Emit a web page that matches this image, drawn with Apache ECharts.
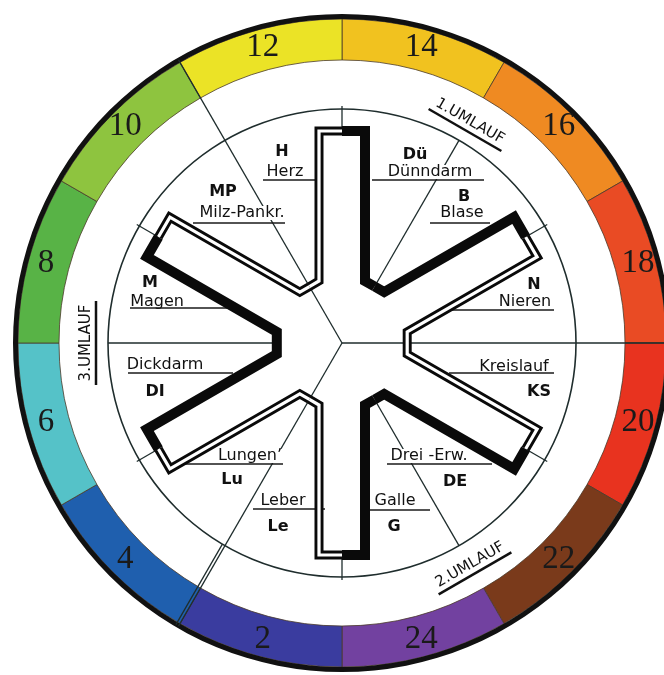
<!DOCTYPE html>
<html><head><meta charset="utf-8">
<script src="https://cdn.jsdelivr.net/npm/echarts@6/dist/echarts.min.js"></script>
<style>html,body{margin:0;padding:0;background:#fff}#c{width:664px;height:675px}</style>
</head><body><div id="c"></div>
<script>
// ---------- data ----------
const hourLabels = ['14','16','18','20','22','24','2','4','6','8','10','12'];
const hourColors = ['#f1c21f','#ef8a22','#e94b24','#e8331f','#7a3a1b','#7241a0','#3a3c9f','#1f5fae','#55c2c8','#58b346','#8ec43f','#ebe326'];
const hourSpan   = [2,2,2,2,2,2,2,2,2,2,2,2];

const organNames     = ['Herz','Dünndarm','Blase','Nieren','Kreislauf','Drei -Erw.','Galle','Leber','Lungen\u02BC','Dickdarm','Magen','Milz-Pankr.'];
const organAbbr      = ['H','Dü','B','N','KS','DE','G','Le','Lu','DI','M','MP'];
const organStartHour = [11,13,15,17,19,21,23,1,3,5,7,9];
const organLine      = ['double','thick','thick','double','double','thick','thick','double','double','thick','thick','double'];

const umlaufLabels    = ['1.UMLAUF','2.UMLAUF','3.UMLAUF'];
const umlaufStartHour = [11,19,3];

// ---------- layout ----------
const CX = 342, CY = 343;
const R_OUT = 329, R_RING_OUT = 324, R_RING_IN = 283, R_CIRCLE = 234;
const ARM_W = 23, ARM_L = 212, CUT = 62;
const LINE_COLOR = '#1f2d2d';

// label layout (chart units, origin at clock centre, y up)
const nameXY  = [[-57,171],[88,171],[120,130],[183,41],[172,-24],[87,-113],[53,-158],[-59,-158],[-92,-113],[-177,-22],[-185,41],[-100,130]];
const abbrXY  = [[-60,191],[73,188],[122,146],[192,58],[197,-49],[113,-139],[52,-184],[-64,-184],[-110,-137],[-187,-49],[-192,60],[-119,151]];
const ulSpan  = [[-79,-19,163],[30,142,163],[88,148,120],[100,212,33],[107,212,-30],[45,150,-121],[25,88,-167],[-89,-17,-166],[-169,-59,-121],[-214,-109,-30],[-212,-112,35],[-149,-57,120]];

function ang(h){ return ((h - 13) * 15 + 720) % 360; }
function u(deg, r){ const a = deg * Math.PI / 180; return [r * Math.sin(a), r * Math.cos(a)]; }
function add(a, b){ return [a[0] + b[0], a[1] + b[1]]; }

function organPath(i){
  const s = ang(organStartHour[i]);
  let A, sgn;
  if (s % 60 === 0) { A = s; sgn = 1; } else { A = s + 30; sgn = -1; }
  const side = u(A + 90 * sgn, ARM_W);
  const tipMid = u(A, ARM_L);
  const tipCorner = add(tipMid, side);
  const inner = add(u(A, CUT), side);
  const A2 = A + 60 * sgn;
  const inner2 = add(u(A2, CUT), u(A2 - 90 * sgn, ARM_W));
  const cutMid = [(inner[0] + inner2[0]) / 2, (inner[1] + inner2[1]) / 2];
  return [cutMid, inner, tipCorner, tipMid];
}

const doublePaths = [], thickPaths = [];
organNames.forEach((n, i) => {
  (organLine[i] === 'double' ? doublePaths : thickPaths).push({ coords: organPath(i) });
});

// radial lines
const radial = [];
const cutR = CUT * Math.cos(Math.PI / 6) + ARM_W * 0.5;
const umlaufAngles = umlaufStartHour.map(ang);
for (let k = 0; k < 6; k++) {
  const b = 30 + 60 * k;
  if (umlaufAngles.includes(b)) radial.push({ coords: [[0, 0], u(b, R_OUT - 2)] });
  else radial.push({ coords: [u(b, cutR), u(b, R_CIRCLE)] });
  const a = 60 * k;
  radial.push({ coords: [u(a, ARM_L), u(a, R_CIRCLE + 3)] });
}
{
  const b = ang(3);
  const off = u(b + 90, 3);
  radial.push({ coords: [add(u(b, R_CIRCLE), off), add(u(b, R_OUT - 2), off)] });
}

const underlines = ulSpan.map(s => ({ coords: [[s[0], s[2]], [s[1], s[2]]] }));

const option = {
  animation: false,
  grid: { left: 0, top: 0, width: 664, height: 675 },
  xAxis: { type: 'value', min: -CX, max: 664 - CX, show: false },
  yAxis: { type: 'value', min: -(675 - CY), max: CY, show: false },
  series: [
    {
      type: 'pie', silent: true, z: 1, center: [CX, CY], radius: [R_RING_IN, R_RING_OUT],
      startAngle: 90, clockwise: true,
      data: hourLabels.map((h, i) => ({ name: h, value: hourSpan[i], itemStyle: { color: hourColors[i] } })),
      itemStyle: { borderColor: '#4a3a2a', borderWidth: 0.8 },
      label: { show: true, position: 'inside', formatter: '{b}', fontFamily: 'Liberation Serif', fontSize: 33, color: '#1a1a1a' },
      labelLine: { show: false }
    },
    {
      type: 'pie', silent: true, z: 1, center: [CX, CY], radius: [R_RING_OUT, R_OUT],
      data: [{ value: 1, itemStyle: { color: '#111' } }], label: { show: false }, labelLine: { show: false }
    },
    {
      type: 'pie', silent: true, z: 1, center: [CX, CY], radius: [R_CIRCLE - 0.8, R_CIRCLE + 0.8],
      data: [{ value: 1, itemStyle: { color: LINE_COLOR } }], label: { show: false }, labelLine: { show: false }
    },
    {
      type: 'lines', coordinateSystem: 'cartesian2d', silent: true, z: 3, polyline: true,
      lineStyle: { color: LINE_COLOR, width: 1.3, opacity: 1 }, data: radial
    },
    {
      type: 'custom', coordinateSystem: 'cartesian2d', silent: true, z: 5,
      data: organNames.map((n, i) => [nameXY[i][0], nameXY[i][1]]),
      renderItem: function (params, api) {
        const i = params.dataIndex;
        const p = api.coord(nameXY[i]);
        const q = api.coord(abbrXY[i]);
        return {
          type: 'group', children: [
            { type: 'text', x: p[0], y: p[1], style: { text: organNames[i], fill: '#111', fontSize: 16, fontFamily: 'DejaVu Sans', align: 'center', verticalAlign: 'middle', backgroundColor: '#fff', padding: [0, 1], lineHeight: 14 } },
            { type: 'text', x: q[0], y: q[1], style: { text: organAbbr[i], fill: '#111', fontSize: 16, fontWeight: 'bold', fontFamily: 'DejaVu Sans', align: 'center', verticalAlign: 'middle' } }
          ]
        };
      }
    },
    {
      type: 'lines', coordinateSystem: 'cartesian2d', silent: true, z: 6,
      lineStyle: { color: '#1a1a1a', width: 1.7, opacity: 1 }, data: underlines
    },
    {
      type: 'custom', coordinateSystem: 'cartesian2d', silent: true, z: 6,
      data: umlaufLabels.map((t, i) => [i]),
      renderItem: function (params, api) {
        const i = params.dataIndex;
        const mid = ang(umlaufStartHour[i]) + 60;
        const p = api.coord(u(mid, 256));
        let rot = -mid;
        while (rot <= -90) rot += 180;
        while (rot > 90) rot -= 180;
        return {
          type: 'group', x: p[0], y: p[1], rotation: rot * Math.PI / 180, children: [
            { type: 'text', x: 0, y: 0, style: { text: umlaufLabels[i], fill: '#111', fontSize: 15, fontFamily: 'DejaVu Sans', align: 'center', verticalAlign: 'middle' } },
            { type: 'line', shape: { x1: -42, y1: 10, x2: 42, y2: 10 }, style: { stroke: '#111', lineWidth: 2.5 } }
          ]
        };
      }
    },
    {
      type: 'lines', coordinateSystem: 'cartesian2d', silent: true, z: 7, polyline: true,
      lineStyle: { color: '#0a0a0a', width: 9, opacity: 1, cap: 'butt', join: 'miter' }, data: doublePaths
    },
    {
      type: 'lines', coordinateSystem: 'cartesian2d', silent: true, z: 8, polyline: true,
      lineStyle: { color: '#ffffff', width: 3.2, opacity: 1, cap: 'butt', join: 'miter' }, data: doublePaths
    },
    {
      type: 'lines', coordinateSystem: 'cartesian2d', silent: true, z: 9, polyline: true,
      lineStyle: { color: '#0a0a0a', width: 10, opacity: 1, cap: 'butt', join: 'miter' }, data: thickPaths
    }
  ]
};

const chart = echarts.init(document.getElementById('c'), null, { renderer: 'canvas' });
chart.setOption(option);
</script>
</body></html>
